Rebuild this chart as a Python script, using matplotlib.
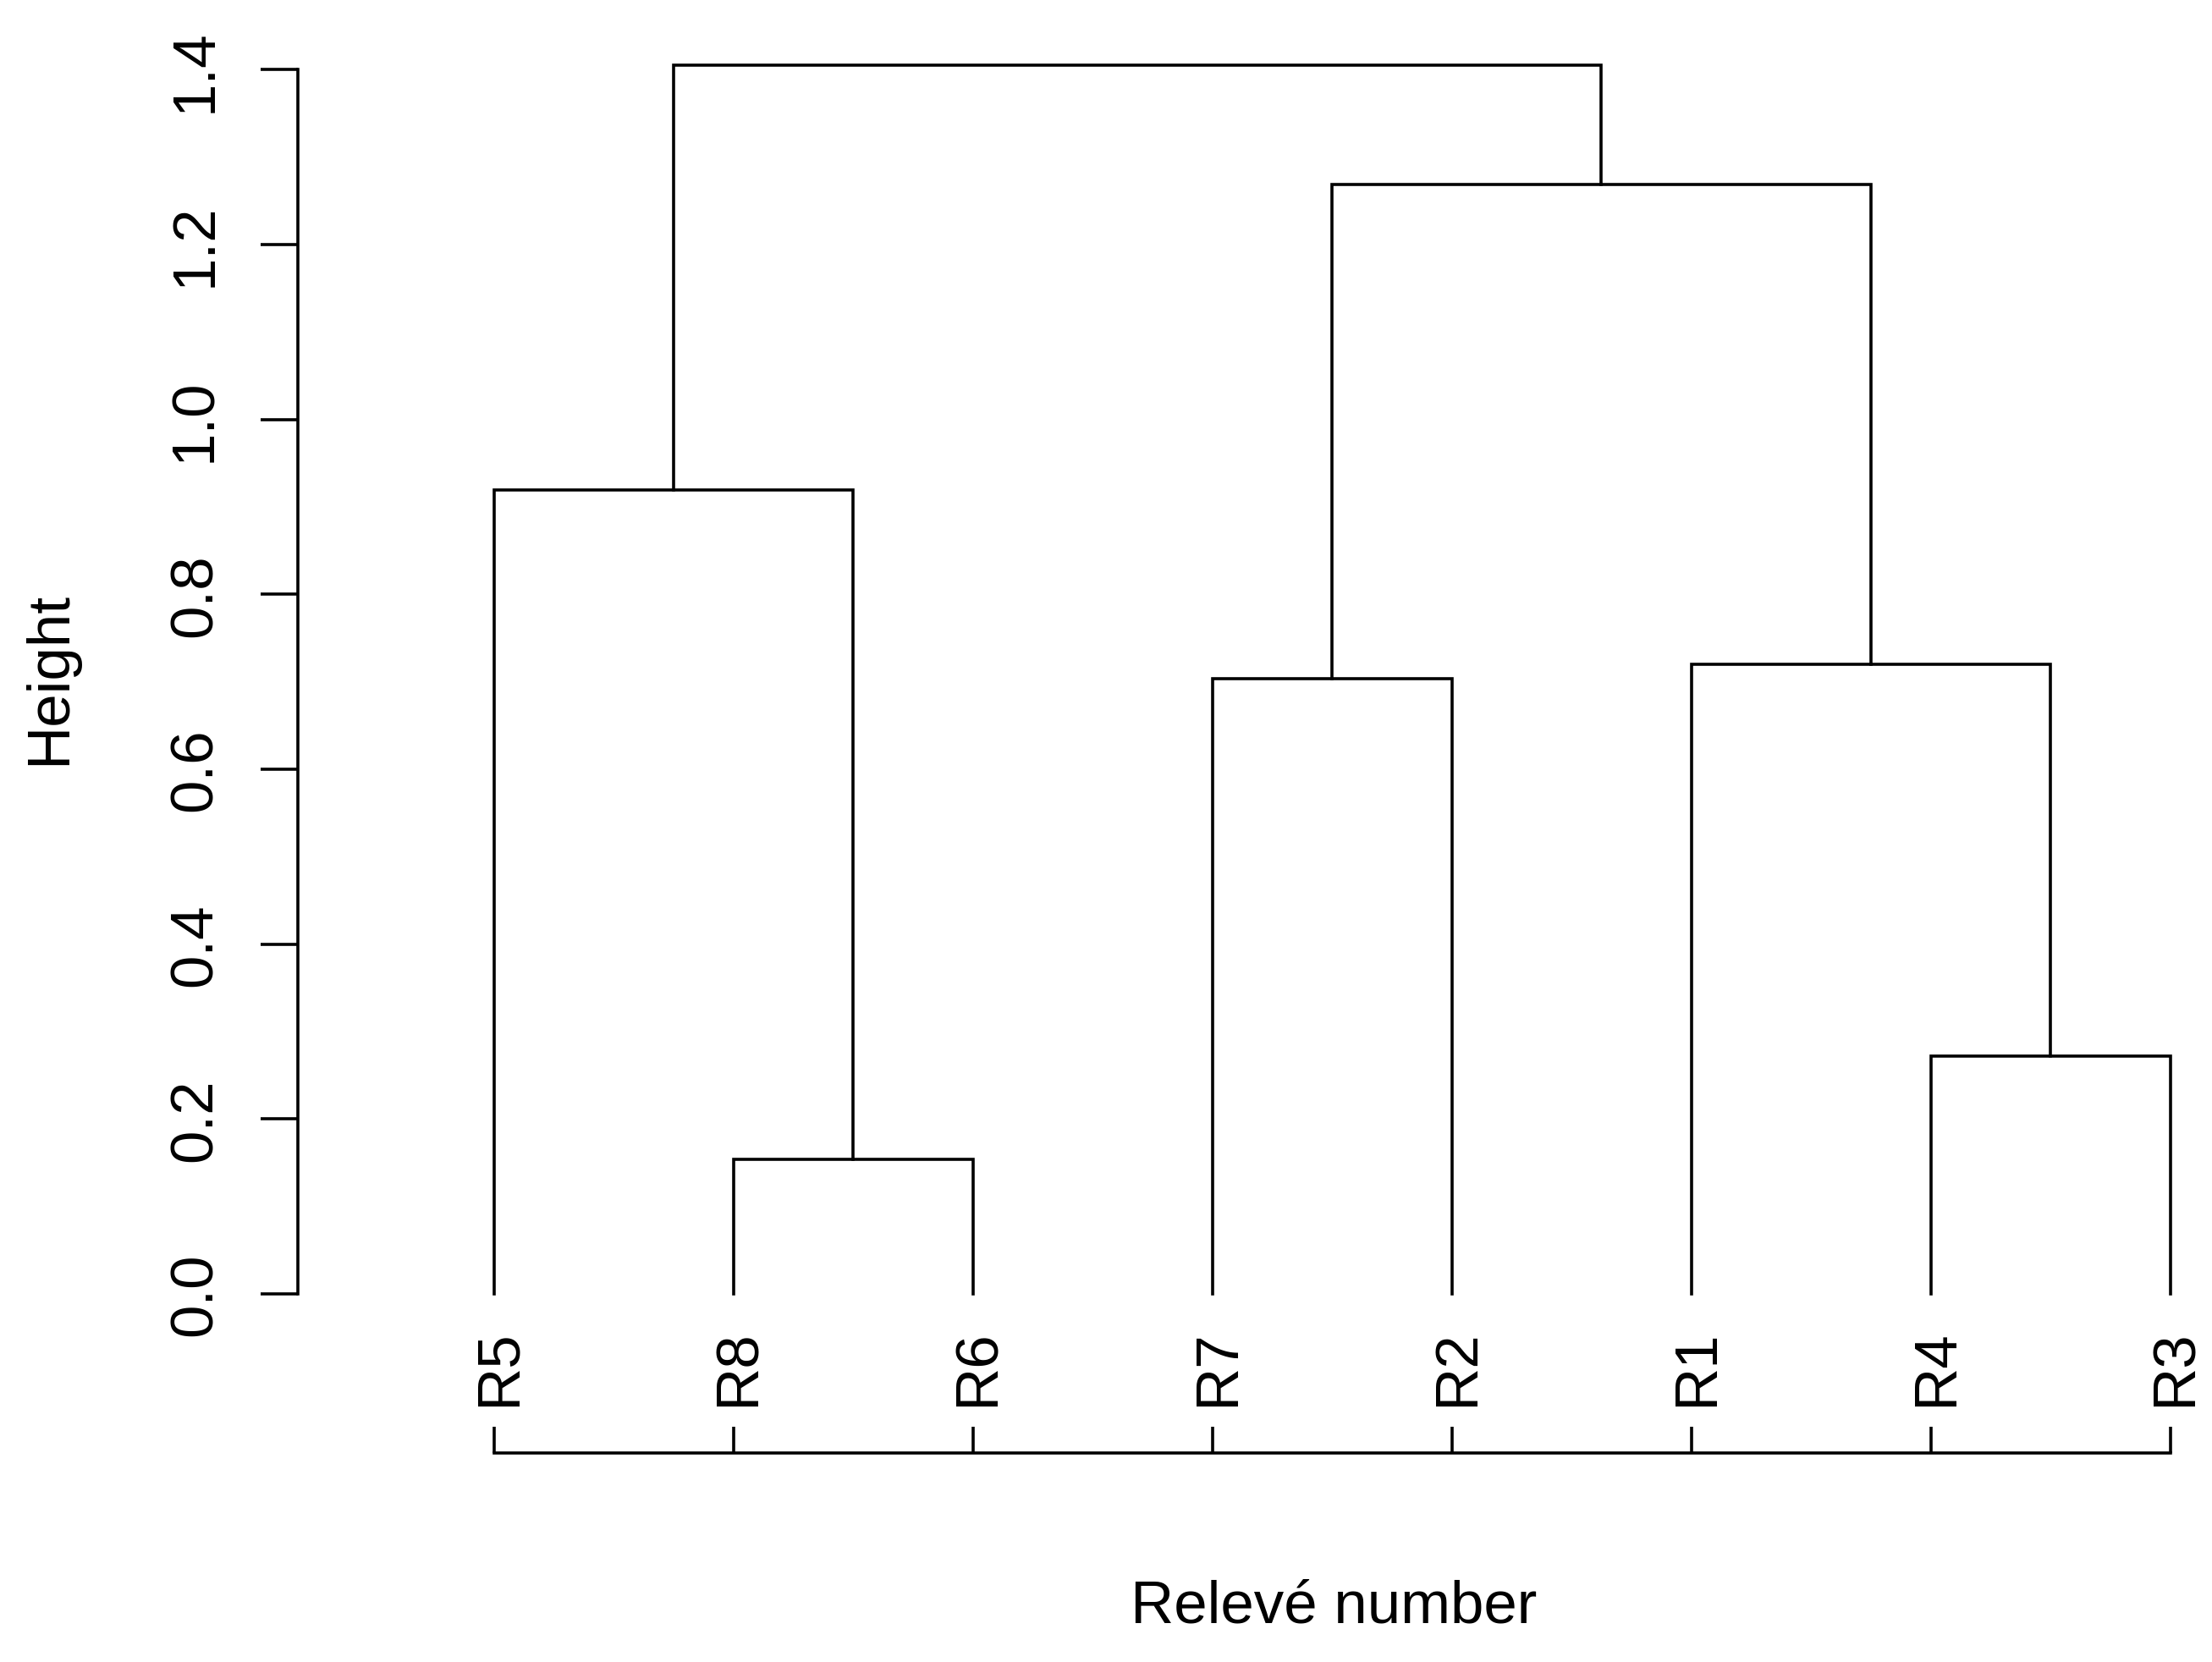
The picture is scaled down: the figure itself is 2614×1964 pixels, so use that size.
import numpy as np
import matplotlib.pyplot as plt
from matplotlib.transforms import offset_copy

plt.rcParams['font.family'] = ['Liberation Sans', 'DejaVu Sans']

# hclust-style merges: negative = leaf number (R1..R8), positive = earlier merge step
labels = ["R1", "R2", "R3", "R4", "R5", "R6", "R7", "R8"]
merge_a = [-8, -4, -7, -1, -5, 3, 5]
merge_b = [-6, -3, -2, 2, 1, 4, 6]
heights = [0.154, 0.272, 0.704, 0.720, 0.919, 1.269, 1.405]
order = [5, 8, 6, 7, 2, 1, 4, 3]

W, H = 2614, 1965
fs = 51
lw = 2.6

fig = plt.figure(figsize=(W / 100, H / 100), dpi=100)
ax = fig.add_axes([351.5 / W, (H - 1718) / H, (2600 - 351.5) / W, (1718 - 83.3) / H])

# leaf positions follow the plotting order
leaf_x = {leaf: i + 1 for i, leaf in enumerate(order)}
node_x = {}
node_y = {}

def child(c):
    if c < 0:
        return leaf_x[-c], 0.0
    return node_x[c], node_y[c]

for i, (a, b, h) in enumerate(zip(merge_a, merge_b, heights), start=1):
    xa, ya = child(a)
    xb, yb = child(b)
    ax.plot([xa, xa, xb, xb], [ya, h, h, yb], color='k', lw=lw, clip_on=False,
            solid_joinstyle='miter')
    node_x[i] = (xa + xb) / 2
    node_y[i] = h

ax.set_xlim(0.1802, 8.1254)
ax.set_ylim(-(1718 - 1530) / 1033.36, 1.4)

for s in ['top', 'right']:
    ax.spines[s].set_visible(False)
ax.spines['left'].set_bounds(0, 1.4)
ax.spines['bottom'].set_bounds(1, 8)
ax.spines['left'].set_linewidth(lw)
ax.spines['bottom'].set_linewidth(lw)

yt = np.arange(0, 1.41, 0.2)
ax.set_yticks(yt)
ax.set_yticklabels(['%.1f' % v for v in yt])
ax.set_xticks(range(1, 9))
ax.tick_params(axis='y', length=31.7, width=lw, direction='out', pad=41.8, labelsize=fs)
ax.tick_params(axis='x', length=22.3, width=lw, direction='in', labelbottom=False)

for t in ax.get_yticklabels():
    t.set_rotation(90)
    t.set_rotation_mode('anchor')
    t.set_ha('center')
    t.set_va('baseline')

# leaf labels sit above the axis line
trans = offset_copy(ax.get_xaxis_transform(), fig=fig, x=25.5, y=56, units='dots')
for leaf in order:
    ax.text(leaf_x[leaf], 0, labels[leaf - 1], transform=trans, rotation=90,
            rotation_mode='anchor', ha='left', va='baseline', fontsize=fs)

fig.text(77 / W, 1 - 801 / H, 'Height', rotation=90, rotation_mode='anchor',
         ha='center', va='baseline', fontsize=fs)
fig.text(1576.5 / W, 1 - 1918 / H, 'Relevé number', ha='center', va='baseline', fontsize=fs)

fig.savefig('out.png', dpi=100)
